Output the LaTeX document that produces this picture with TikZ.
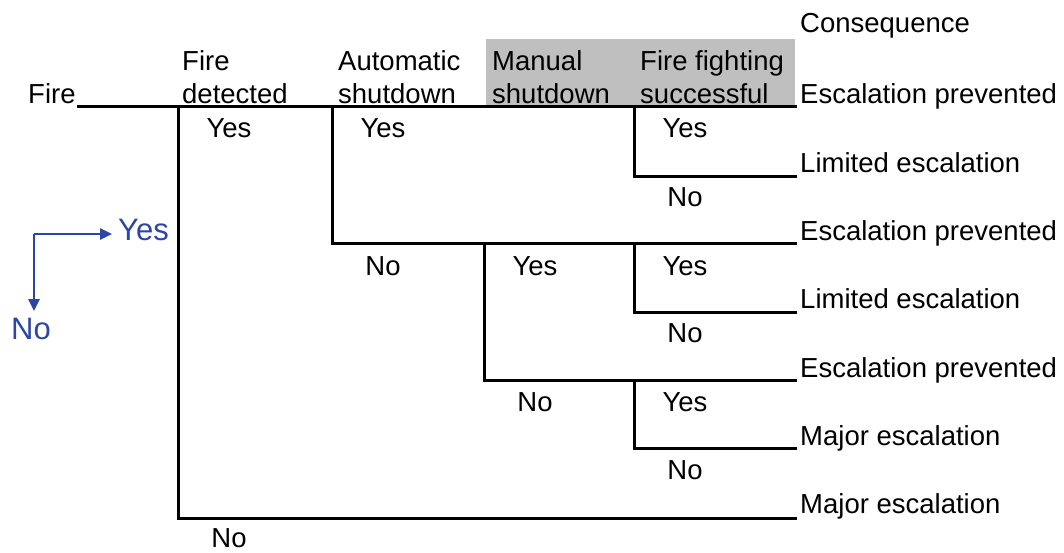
\documentclass[tikz,border=0pt]{standalone}
\usepackage{fontspec}
\setmainfont{Liberation Sans}
\usetikzlibrary{arrows.meta}
\definecolor{legblue}{RGB}{45,70,165}
\definecolor{hdrgray}{RGB}{191,191,191}
\begin{document}
\begin{tikzpicture}[x=1pt,y=-1pt,
  txt/.style={inner sep=0pt,anchor=base west,font=\fontsize{27.5}{33}\selectfont},
  lab/.style={inner sep=0pt,anchor=base,font=\fontsize{27.5}{33}\selectfont},
  branch/.style={line width=3pt,line cap=rect,line join=miter},
  legarrow/.style={legblue,line width=2.5pt,-{Triangle[length=12pt,width=11pt]}},
  legtxt/.style={inner sep=0pt,text=legblue,font=\fontsize{31}{36}\selectfont}]
\useasboundingbox (0,0) rectangle (1064,552);
% header shading
\fill[hdrgray] (486,39) rectangle (795,106);
% headers
\node[txt] (h1a) at (182,70) {Fire};
\node[txt] (h1b) at (182,103) {detected};
\node[txt] (h2a) at (338,70) {Automatic};
\node[txt] (h2b) at (338,103) {shutdown};
\node[txt] (h3a) at (492,70) {Manual};
\node[txt] (h3b) at (492,103) {shutdown};
\node[txt] (h4a) at (640,70) {Fire fighting};
\node[txt] (h4b) at (640,103) {successful};
\node[txt] (hc) at (800,32) {Consequence};
\node[txt] (fire) at (28,103) {Fire};
% coordinates
\coordinate (s) at (78,106);
\coordinate (e0) at (795,106);
\coordinate (a1) at (178,106); \coordinate (a2) at (178,518); \coordinate (a3) at (795,518);
\coordinate (b1) at (332,106); \coordinate (b2) at (332,243); \coordinate (b3) at (795,243);
\coordinate (c1) at (634,106); \coordinate (c2) at (634,176); \coordinate (c3) at (795,176);
\coordinate (d1) at (484,243); \coordinate (d2) at (484,380); \coordinate (d3) at (795,380);
\coordinate (f1) at (634,243); \coordinate (f2) at (634,312); \coordinate (f3) at (795,312);
\coordinate (g1) at (634,380); \coordinate (g2) at (634,448); \coordinate (g3) at (795,448);
% branches
\draw[branch] (s) -- (e0);
\draw[branch] (a1) -- (a2) -- (a3);
\draw[branch] (b1) -- (b2) -- (b3);
\draw[branch] (c1) -- (c2) -- (c3);
\draw[branch] (d1) -- (d2) -- (d3);
\draw[branch] (f1) -- (f2) -- (f3);
\draw[branch] (g1) -- (g2) -- (g3);
% yes/no labels
\node[lab] (y1) at (229,137) {Yes};
\node[lab] (y2) at (383,137) {Yes};
\node[lab] (y3) at (685,137) {Yes};
\node[lab] (n3) at (685,206) {No};
\node[lab] (n2) at (383,275) {No};
\node[lab] (y4) at (535,275) {Yes};
\node[lab] (y5) at (685,275) {Yes};
\node[lab] (n5) at (685,342) {No};
\node[lab] (n4) at (535,411) {No};
\node[lab] (y6) at (685,411) {Yes};
\node[lab] (n6) at (685,479) {No};
\node[lab] (n1) at (229,547) {No};
% legend
\coordinate (lc) at (34,234);
\node[legtxt,anchor=west] (ly) at (118,230) {Yes};
\node[legtxt,anchor=north] (ln) at (31,318) {No};
\draw[legarrow] (lc) -- (112,234);
\draw[legarrow] (lc) -- (34,311);
% consequences
\node[txt] (k1) at (800,103) {Escalation prevented};
\node[txt] (k2) at (800,172) {Limited escalation};
\node[txt] (k3) at (800,240) {Escalation prevented};
\node[txt] (k4) at (800,308) {Limited escalation};
\node[txt] (k5) at (800,377) {Escalation prevented};
\node[txt] (k6) at (800,445) {Major escalation};
\node[txt] (k7) at (800,513) {Major escalation};
\end{tikzpicture}
\end{document}
